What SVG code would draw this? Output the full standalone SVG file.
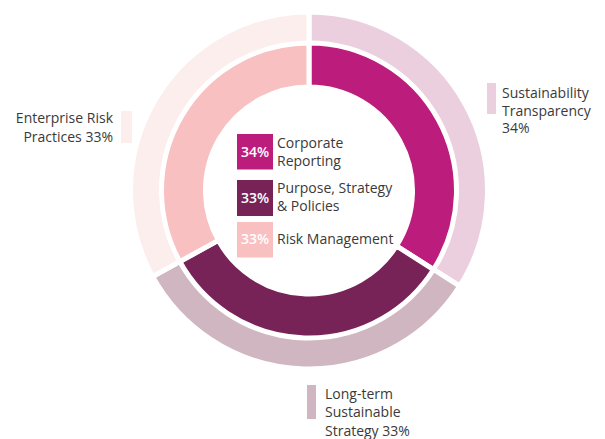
<svg xmlns="http://www.w3.org/2000/svg" width="605" height="439" viewBox="0 0 605 439">
<style>
.seg{stroke:#fff;stroke-width:5;stroke-linejoin:miter}
.lbl{font-family:"Open Sans","Liberation Sans",sans-serif;font-size:14px;fill:#3a3a3a}
.pct{font-family:"Open Sans","Liberation Sans",sans-serif;font-size:14px;font-weight:600;fill:#fff;text-anchor:middle}
</style>
<rect width="605" height="439" fill="#fff"/>
<g id="outer-ring">
<path id="sustainability-transparency" class="seg" fill="#EBCFDE" d="M309,12 A178.5,178.5 0 0 1 459.71,286.14 L432.69,268.99 A146.5,146.5 0 0 0 309,44 Z"/>
<path id="long-term-strategy" class="seg" fill="#CFB6C0" d="M459.71,286.14 A178.5,178.5 0 0 1 152.58,276.5 L180.62,261.08 A146.5,146.5 0 0 0 432.69,268.99 Z"/>
<path id="enterprise-risk" class="seg" fill="#FBEEEC" d="M152.58,276.5 A178.5,178.5 0 0 1 309,12 L309,44 A146.5,146.5 0 0 0 180.62,261.08 Z"/>
</g>
<g id="inner-ring">
<path id="corporate-reporting" class="seg" fill="#BC1D7C" d="M309,43 A147.5,147.5 0 0 1 433.53,269.53 L396.39,245.96 A103.5,103.5 0 0 0 309,87 Z"/>
<path id="purpose-strategy" class="seg" fill="#772357" d="M433.53,269.53 A147.5,147.5 0 0 1 179.75,261.57 L218.3,240.37 A103.5,103.5 0 0 0 396.39,245.96 Z"/>
<path id="risk-management" class="seg" fill="#F8C0C0" d="M179.75,261.57 A147.5,147.5 0 0 1 309,43 L309,87 A103.5,103.5 0 0 0 218.3,240.37 Z"/>
</g>
<g id="legend-corporate">
<rect x="237" y="134" width="36" height="35.5" fill="#BC1D7C"/>
<text class="pct" x="255" y="157">34%</text>
<text class="lbl" x="277" y="148">Corporate</text>
<text class="lbl" x="277" y="166">Reporting</text>
</g>
<g id="legend-purpose">
<rect x="237" y="180" width="36" height="36" fill="#772357"/>
<text class="pct" x="255" y="202.5">33%</text>
<text class="lbl" x="277" y="192.5">Purpose, Strategy</text>
<text class="lbl" x="277" y="210.5">&amp; Policies</text>
</g>
<g id="legend-risk">
<rect x="237" y="222" width="36" height="35.5" fill="#F8C0C0"/>
<text class="pct" x="255" y="244">33%</text>
<text class="lbl" x="277" y="244">Risk Management</text>
</g>
<g id="label-enterprise">
<rect x="121" y="111" width="11" height="32" fill="#FBEEEC"/>
<text class="lbl" x="113" y="123" text-anchor="end">Enterprise Risk</text>
<text class="lbl" x="113" y="141.5" text-anchor="end">Practices 33%</text>
</g>
<g id="label-sustainability">
<rect x="487" y="83" width="9" height="31" fill="#EBCFDE"/>
<text class="lbl" x="502" y="98">Sustainability</text>
<text class="lbl" x="502" y="115.5">Transparency</text>
<text class="lbl" x="502" y="133">34%</text>
</g>
<g id="label-longterm">
<rect x="307" y="385" width="9" height="34" fill="#CFB6C0"/>
<text class="lbl" x="325" y="399">Long-term</text>
<text class="lbl" x="325" y="417">Sustainable</text>
<text class="lbl" x="325" y="435.5">Strategy 33%</text>
</g>
</svg>
